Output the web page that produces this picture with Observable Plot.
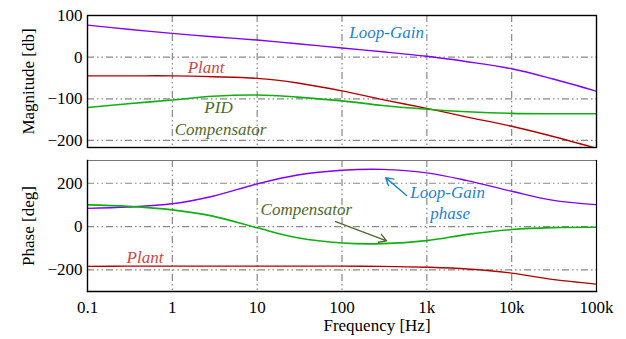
<!DOCTYPE html>
<html>
<head>
<meta charset="utf-8">
<script src="https://cdn.jsdelivr.net/npm/d3@7"></script>
<script src="https://cdn.jsdelivr.net/npm/@observablehq/plot@0.6"></script>
<style>
  body { margin: 0; background: white; }
  #chart svg { display: block; }
</style>
</head>
<body>
<div id="chart"></div>
<script>
// ---- data ----
const freq = [0.1, 0.3, 1, 3, 10, 30, 100, 300, 1000, 3000, 10000, 30000, 100000];
const loopGainMag  = [77, 67, 57, 49, 41, 32, 22, 13, 2, -11, -28, -52, -82];
const plantMag     = [-45, -45, -45, -47, -51, -62, -81, -102, -123, -144, -166, -190, -219];
const pidMag       = [-121, -112, -103, -94, -91, -96, -105, -116, -125, -131, -135, -136, -136];
const loopGainPh   = [84, 90, 105, 140, 197, 238, 260, 264, 248, 212, 163, 122, 101];
const compPh       = [100, 93, 77, 48, -6, -52, -76, -79, -65, -36, -14, -5, -3];
const plantPh      = [-184, -183, -183, -183, -183, -183, -183, -184, -188, -196, -215, -244, -266];

const xTicks = [0.1, 1, 10, 100, 1000, 10000, 100000];
const xTickLabels = ["0.1", "1", "10", "100", "1k", "10k", "100k"];
const magTicks = [-200, -100, 0, 100];
const phTicks = [-200, 0, 200];

const magLabels = [
  {text: "Loop-Gain", f: 336, v: 58, c: "#1f7fd0"},
  {text: "Plant", f: 2.5, v: -26, c: "#c84848"},
  {text: "PID", f: 3.5, v: -122, c: "#4f6a2a"},
  {text: "Compensator", f: 3.7, v: -175, c: "#4f6a2a"}
];
const phLabels = [
  {text: "Compensator", f: 38, v: 78, c: "#4f6a2a"},
  {text: "Loop-Gain", f: 1760, v: 157, c: "#1f7fd0"},
  {text: "phase", f: 1880, v: 60, c: "#1f7fd0"},
  {text: "Plant", f: 0.476, v: -143, c: "#c84848"}
];
const phArrows = [
  {f1: 84, v1: 23, f2: 336, v2: -66, c: "#4f6a2a"},
  {f1: 578, v1: 143, f2: 327, v2: 226, c: "#1f7fd0"}
];

const COL_LOOP = "#7f00ff", COL_PLANT = "#b00000", COL_PID = "#10b010";
const FF = "Liberation Serif";
const mk = (ys) => freq.map((f, i) => ({f, v: ys[i]}));
const fmtX = (d) => xTickLabels[xTicks.indexOf(d)] ?? "";
const dash = "7,3,1.5,3,1.5,3";
const style = {fontFamily: FF, fontSize: "17px", background: "white", color: "black"};

const W = 626, ML = 87, MR = 30;

const magPlot = Plot.plot({
  width: W, height: 152,
  marginLeft: ML, marginRight: MR, marginTop: 15, marginBottom: 5,
  style,
  x: {type: "log", domain: [0.1, 100000]},
  y: {domain: [-217, 100]},
  marks: [
    Plot.ruleX(xTicks.slice(1, -1), {stroke: "#888", strokeWidth: 1.2, strokeDasharray: dash}),
    Plot.ruleY(magTicks.slice(0, -1), {stroke: "#888", strokeWidth: 1.2, strokeDasharray: dash}),
    Plot.line(mk(loopGainMag), {x: "f", y: "v", stroke: COL_LOOP, strokeWidth: 1.4, curve: "catmull-rom", clip: true}),
    Plot.line(mk(plantMag), {x: "f", y: "v", stroke: COL_PLANT, strokeWidth: 1.4, curve: "catmull-rom", clip: true}),
    Plot.line(mk(pidMag), {x: "f", y: "v", stroke: COL_PID, strokeWidth: 1.6, curve: "catmull-rom", clip: true}),
    Plot.text(magLabels, {x: "f", y: "v", text: "text", fill: "c", fontSize: 17, fontFamily: FF, className: "ital"}),
    Plot.frame({stroke: "black", strokeWidth: 1.4}),
    Plot.axisY(magTicks, {tickSize: 0, tickPadding: 5, fontSize: 17, fontFamily: FF, fontVariant: "normal", label: "Magnitude [db]", labelAnchor: "center", labelArrow: "none", labelOffset: 66}),
    Plot.axisX({ticks: [], label: null, tickSize: 0})
  ]
});

const phPlot = Plot.plot({
  width: W, height: 187,
  marginLeft: ML, marginRight: MR, marginTop: 8, marginBottom: 48,
  style,
  x: {type: "log", domain: [0.1, 100000]},
  y: {domain: [-300, 305]},
  marks: [
    Plot.ruleX(xTicks.slice(1, -1), {stroke: "#888", strokeWidth: 1.2, strokeDasharray: dash}),
    Plot.ruleY(phTicks, {stroke: "#888", strokeWidth: 1.2, strokeDasharray: dash}),
    Plot.line(mk(loopGainPh), {x: "f", y: "v", stroke: COL_LOOP, strokeWidth: 1.4, curve: "catmull-rom", clip: true}),
    Plot.line(mk(compPh), {x: "f", y: "v", stroke: COL_PID, strokeWidth: 1.6, curve: "catmull-rom", clip: true}),
    Plot.line(mk(plantPh), {x: "f", y: "v", stroke: COL_PLANT, strokeWidth: 1.4, curve: "catmull-rom", clip: true}),
    Plot.arrow(phArrows, {x1: "f1", y1: "v1", x2: "f2", y2: "v2", stroke: "c", strokeWidth: 1.4, headLength: 9}),
    Plot.text(phLabels, {x: "f", y: "v", text: "text", fill: "c", fontSize: 17, fontFamily: FF, className: "ital"}),
    Plot.ruleY([305], {stroke: "#777", strokeWidth: 1.2}),
    Plot.frame({stroke: "black", strokeWidth: 1.4, anchor: "left"}),
    Plot.frame({stroke: "black", strokeWidth: 1.4, anchor: "bottom"}),
    Plot.frame({stroke: "black", strokeWidth: 1.2, anchor: "right"}),
    Plot.axisY(phTicks, {tickSize: 0, tickPadding: 5, fontSize: 17, fontFamily: FF, fontVariant: "normal", label: "Phase [deg]", labelAnchor: "center", labelArrow: "none", labelOffset: 66}),
    Plot.axisX(xTicks, {tickSize: 0, tickPadding: 9, fontSize: 17, fontFamily: FF, fontVariant: "normal", tickFormat: fmtX, label: null}),
    Plot.text(["Frequency [Hz]"], {frameAnchor: "bottom", dy: 39, dx: 35, fontSize: 17, fontFamily: FF})
  ]
});

document.getElementById("chart").append(magPlot, phPlot);
// italic annotation labels
d3.selectAll("#chart g.ital text").style("font-style", "italic");
</script>
</body>
</html>
